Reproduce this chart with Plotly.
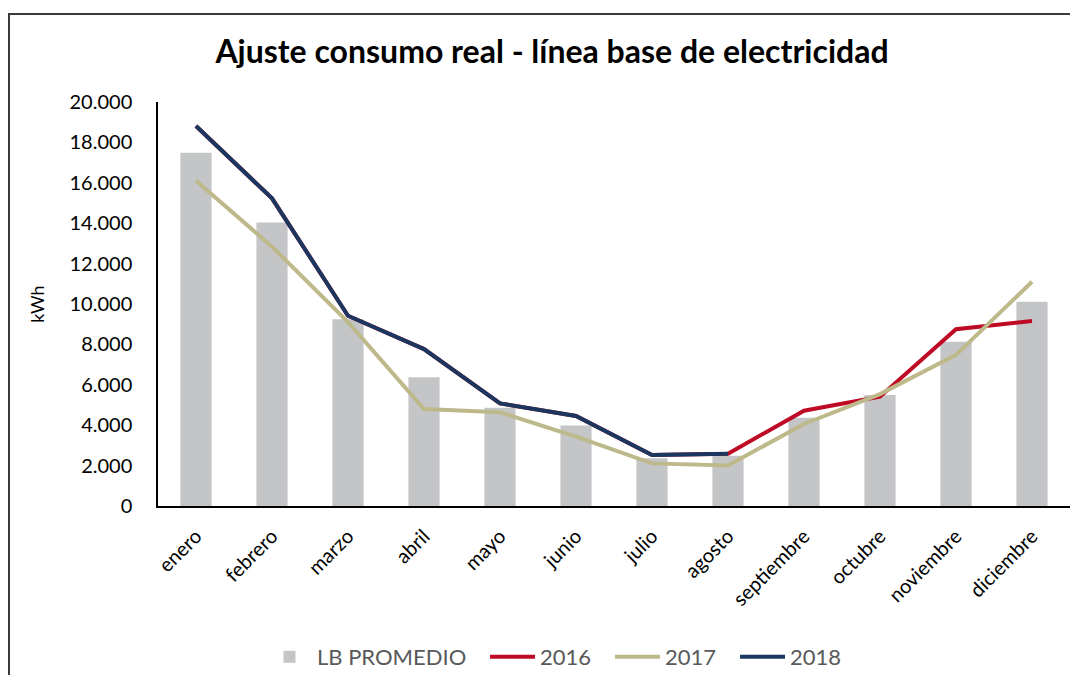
import plotly.graph_objects as go

meses = ["enero", "febrero", "marzo", "abril", "mayo", "junio", "julio",
         "agosto", "septiembre", "octubre", "noviembre", "diciembre"]
lb_promedio = [17490, 14040, 9240, 6370, 4870, 3980, 2360, 2490, 4370, 5500, 8130, 10110]
serie_2016 = [18810, 15230, 9420, 7770, 5080, 4460, 2520, 2590, 4720, 5410, 8750, 9160]
serie_2017 = [16100, 12840, 9100, 4800, 4640, 3430, 2110, 2010, 4060, 5540, 7480, 11100]
serie_2018 = [18810, 15230, 9420, 7770, 5080, 4460, 2520, 2590, None, None, None, None]
y_ticks = [0, 2000, 4000, 6000, 8000, 10000, 12000, 14000, 16000, 18000, 20000]

# page body has an 8px margin: figure coordinates = page coordinates - 8
O = 8
W, H = 1078 - 2 * O, 683 - 2 * O
L, T = 158 - O, 102 - O
R = W - (1070 - O)
B = H - (506 - O)
pw, ph = W - L - R, H - T - B

fig = go.Figure()
fig.add_trace(go.Bar(x=meses, y=lb_promedio, name="LB PROMEDIO", legend="legend",
                     marker=dict(color="#C4C5C7", line=dict(width=0))))
fig.add_trace(go.Scatter(x=meses, y=serie_2016, name="2016", mode="lines", legend="legend2",
                         line=dict(color="#BE0A24", width=4)))
fig.add_trace(go.Scatter(x=meses, y=serie_2017, name="2017", mode="lines", legend="legend2",
                         line=dict(color="#BDB98A", width=4)))
fig.add_trace(go.Scatter(x=meses, y=serie_2018, name="2018", mode="lines", legend="legend2",
                         line=dict(color="#1B365F", width=4)))

def px(xp):  # page x -> paper
    return (xp - O - L) / pw

def py(yp):  # page y -> paper
    return (H - B - (yp - O)) / ph

legend_font = dict(size=22, color="#595959", family="Lato, sans-serif")

fig.update_layout(
    width=W, height=H,
    margin=dict(l=L, r=R, t=T, b=B, autoexpand=False),
    paper_bgcolor="white", plot_bgcolor="white",
    separators=",.",
    bargap=0.59,
    font=dict(family="Lato, sans-serif", color="black"),
    title=dict(text="<b>Ajuste consumo real - línea base de electricidad</b>",
               font=dict(size=32, color="black", family="Lato, sans-serif"),
               x=px(552), xref="paper", xanchor="center",
               y=1 - (52 - O) / H, yref="container", yanchor="middle"),
    xaxis=dict(showline=True, linecolor="black", linewidth=1.5,
               ticks="", tickangle=-45, tickfont=dict(size=20, color="black"),
               ticklabelstandoff=9,
               showgrid=False, automargin=False),
    yaxis=dict(range=[0, 20000], tickvals=y_ticks, tickformat=",d",
               showline=True, linecolor="black", linewidth=1.5,
               ticks="", showgrid=False, zeroline=False, automargin=False,
               ticklabelstandoff=20,
               tickfont=dict(size=20, color="black"),
               title=dict(text="kWh", font=dict(size=18, color="black"), standoff=20)),
    legend=dict(orientation="h", x=px(262), xanchor="left",
                y=py(657), yanchor="middle",
                font=legend_font, itemwidth=45),
    legend2=dict(orientation="h", x=px(485), xanchor="left",
                 y=py(657), yanchor="middle",
                 font=legend_font, itemwidth=45, entrywidth=65,
                 traceorder="normal"),
    showlegend=True,
    shapes=[dict(type="rect", xref="paper", yref="paper",
                 x0=px(9), x1=px(1095), y0=py(700), y1=py(14),
                 line=dict(color="#3a3a3a", width=2), fillcolor="rgba(0,0,0,0)",
                 layer="below")],
)

fig.write_html("out.html")
